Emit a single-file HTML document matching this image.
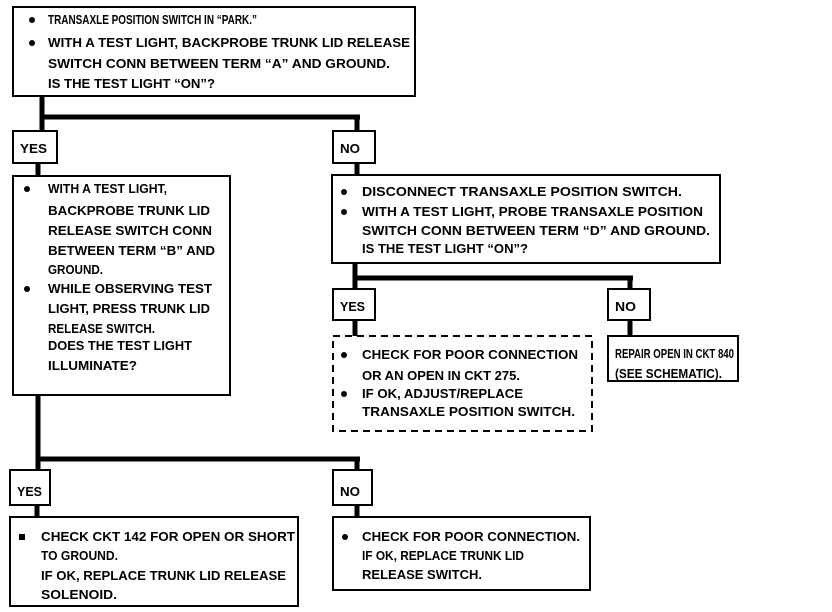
<!DOCTYPE html>
<html><head><meta charset="utf-8"><style>
html,body{margin:0;padding:0;background:#fff;}
svg{display:block;}
text{font-family:"Liberation Sans",sans-serif;font-weight:bold;font-size:12.5px;fill:#000;}
</style></head><body>
<svg width="832" height="612" viewBox="0 0 832 612" xmlns="http://www.w3.org/2000/svg">
<g fill="none" stroke="#000" stroke-width="2">
<rect x="13" y="7" width="402" height="89"/>
<rect x="13" y="131" width="44" height="32"/>
<rect x="333" y="131" width="42" height="32"/>
<rect x="13" y="176" width="217" height="219"/>
<rect x="332" y="175" width="388" height="88"/>
<rect x="333" y="289" width="42" height="31"/>
<rect x="608" y="289" width="42" height="31"/>
<rect x="333" y="336" width="259" height="95" stroke-dasharray="7,5"/>
<rect x="608" y="336" width="130" height="45"/>
<rect x="10" y="470" width="40" height="35"/>
<rect x="333" y="470" width="39" height="35"/>
<rect x="10" y="517" width="288" height="89"/>
<rect x="333" y="517" width="257" height="73"/>
</g>
<g stroke="#000" stroke-width="5" fill="none">
<path d="M42 96V131M40 117H360M357 117V131"/>
<path d="M38 163V176M357 163V175"/>
<path d="M355 263V289M353 278H633M630 278V289"/>
<path d="M355 320V336M630 320V336"/>
<path d="M38 395V470M36 459H360M357 459V470"/>
<path d="M37 505V517M357 505V517"/>
</g>
<g fill="#000">
<circle cx="32" cy="20" r="3"/><circle cx="32" cy="43" r="3"/>
<circle cx="27" cy="189" r="3"/><circle cx="27" cy="289" r="3"/>
<circle cx="344" cy="192" r="3"/><circle cx="344" cy="212" r="3"/>
<circle cx="344" cy="355" r="3"/><circle cx="344" cy="394" r="3"/>
<rect x="19" y="534" width="6" height="6"/>
<circle cx="345" cy="537" r="3"/>
</g>
<g lengthAdjust="spacingAndGlyphs">
<text x="48" y="24" textLength="209" lengthAdjust="spacingAndGlyphs">TRANSAXLE POSITION SWITCH IN “PARK.”</text>
<text x="48" y="47" textLength="362" lengthAdjust="spacingAndGlyphs">WITH A TEST LIGHT, BACKPROBE TRUNK LID RELEASE</text>
<text x="48" y="68" textLength="342" lengthAdjust="spacingAndGlyphs">SWITCH CONN BETWEEN TERM “A” AND GROUND.</text>
<text x="48" y="88" textLength="167" lengthAdjust="spacingAndGlyphs">IS THE TEST LIGHT “ON”?</text>
<text x="20" y="153" textLength="27" lengthAdjust="spacingAndGlyphs">YES</text>
<text x="340" y="153" textLength="20" lengthAdjust="spacingAndGlyphs">NO</text>
<text x="48" y="193" textLength="119" lengthAdjust="spacingAndGlyphs">WITH A TEST LIGHT,</text>
<text x="48" y="215" textLength="162" lengthAdjust="spacingAndGlyphs">BACKPROBE TRUNK LID</text>
<text x="48" y="235" textLength="164" lengthAdjust="spacingAndGlyphs">RELEASE SWITCH CONN</text>
<text x="48" y="255" textLength="167" lengthAdjust="spacingAndGlyphs">BETWEEN TERM “B” AND</text>
<text x="48" y="274" textLength="55" lengthAdjust="spacingAndGlyphs">GROUND.</text>
<text x="48" y="293" textLength="164" lengthAdjust="spacingAndGlyphs">WHILE OBSERVING TEST</text>
<text x="48" y="313" textLength="162" lengthAdjust="spacingAndGlyphs">LIGHT, PRESS TRUNK LID</text>
<text x="48" y="333" textLength="107" lengthAdjust="spacingAndGlyphs">RELEASE SWITCH.</text>
<text x="48" y="350" textLength="144" lengthAdjust="spacingAndGlyphs">DOES THE TEST LIGHT</text>
<text x="48" y="370" textLength="89" lengthAdjust="spacingAndGlyphs">ILLUMINATE?</text>
<text x="362" y="196" textLength="320" lengthAdjust="spacingAndGlyphs">DISCONNECT TRANSAXLE POSITION SWITCH.</text>
<text x="362" y="216" textLength="341" lengthAdjust="spacingAndGlyphs">WITH A TEST LIGHT, PROBE TRANSAXLE POSITION</text>
<text x="362" y="235" textLength="348" lengthAdjust="spacingAndGlyphs">SWITCH CONN BETWEEN TERM “D” AND GROUND.</text>
<text x="362" y="253" textLength="166" lengthAdjust="spacingAndGlyphs">IS THE TEST LIGHT “ON”?</text>
<text x="340" y="311" textLength="25" lengthAdjust="spacingAndGlyphs">YES</text>
<text x="615" y="311" textLength="21" lengthAdjust="spacingAndGlyphs">NO</text>
<text x="362" y="359" textLength="216" lengthAdjust="spacingAndGlyphs">CHECK FOR POOR CONNECTION</text>
<text x="362" y="380" textLength="158" lengthAdjust="spacingAndGlyphs">OR AN OPEN IN CKT 275.</text>
<text x="362" y="398" textLength="161" lengthAdjust="spacingAndGlyphs">IF OK, ADJUST/REPLACE</text>
<text x="362" y="416" textLength="213" lengthAdjust="spacingAndGlyphs">TRANSAXLE POSITION SWITCH.</text>
<text x="615" y="358" textLength="119" lengthAdjust="spacingAndGlyphs">REPAIR OPEN IN CKT 840</text>
<text x="615" y="378" textLength="107" lengthAdjust="spacingAndGlyphs">(SEE SCHEMATIC).</text>
<text x="17" y="496" textLength="25" lengthAdjust="spacingAndGlyphs">YES</text>
<text x="340" y="496" textLength="20" lengthAdjust="spacingAndGlyphs">NO</text>
<text x="41" y="541" textLength="254" lengthAdjust="spacingAndGlyphs">CHECK CKT 142 FOR OPEN OR SHORT</text>
<text x="41" y="560" textLength="77" lengthAdjust="spacingAndGlyphs">TO GROUND.</text>
<text x="41" y="580" textLength="245" lengthAdjust="spacingAndGlyphs">IF OK, REPLACE TRUNK LID RELEASE</text>
<text x="41" y="599" textLength="76" lengthAdjust="spacingAndGlyphs">SOLENOID.</text>
<text x="362" y="541" textLength="218" lengthAdjust="spacingAndGlyphs">CHECK FOR POOR CONNECTION.</text>
<text x="362" y="560" textLength="162" lengthAdjust="spacingAndGlyphs">IF OK, REPLACE TRUNK LID</text>
<text x="362" y="579" textLength="120" lengthAdjust="spacingAndGlyphs">RELEASE SWITCH.</text>
</g>
</svg>
</body></html>
